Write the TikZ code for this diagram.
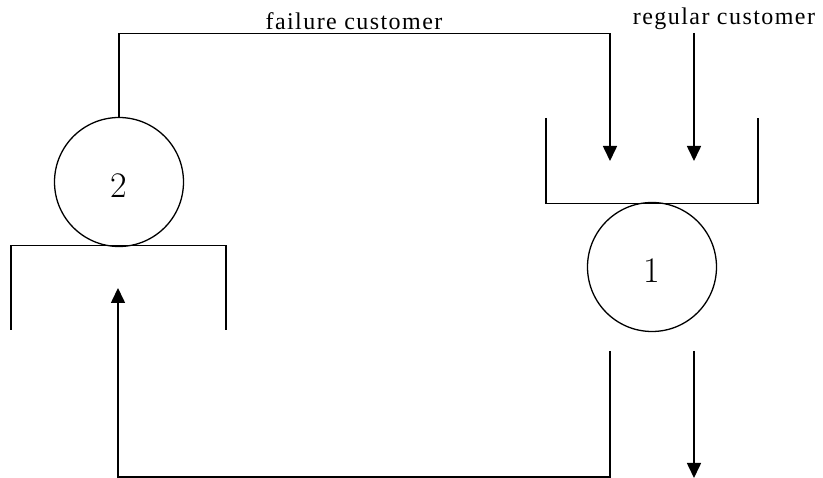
\documentclass[tikz,border=0pt]{standalone}
\usepackage{fontspec}
\setmainfont{Liberation Serif}
\newfontfamily\digitfont{Latin Modern Roman}
\usetikzlibrary{arrows.meta}

\tikzset{
  line/.style={line width=1.6pt},
  flow/.style={line width=1.6pt, -{Triangle[width=14pt,length=15pt]}},
  server/.style={circle, draw, line width=1.3pt, minimum size=129pt, inner sep=0pt},
  servlabel/.style={font=\digitfont\fontsize{36}{36}\selectfont},
  tag/.style={anchor=base, inner sep=0pt,
    font=\addfontfeature{LetterSpace=6}\fontsize{24}{24}\selectfont}
}

\begin{document}
\begin{tikzpicture}[x=1pt, y=-1pt]
  \useasboundingbox (0,0) rectangle (823,478);

  % servers
  \node[server] (s2) at (119,182) {};
  \node[servlabel] (n2) at (119,186) {2};
  \node[server] (s1) at (652,267) {};
  \node[servlabel] (n1) at (652,271) {1};

  % queue of server 2 (open downwards)
  \coordinate (q2a) at (11,330);
  \coordinate (q2b) at (11,245.5);
  \coordinate (q2c) at (226,245.5);
  \coordinate (q2d) at (226,330);
  \draw[line] (q2a) -- (q2b) -- (q2c) -- (q2d);

  % queue of server 1 (open upwards)
  \coordinate (q1a) at (546,118);
  \coordinate (q1b) at (546,203.5);
  \coordinate (q1c) at (758,203.5);
  \coordinate (q1d) at (758,118);
  \draw[line] (q1a) -- (q1b) -- (q1c) -- (q1d);

  % labels
  \node[tag] (fail) at (354,30) {failure customer};
  \node[tag] (reg) at (724,25) {regular customer};

  % failure customers return from server 2 to queue 1
  \coordinate (ftop) at (119,33.5);
  \coordinate (fin) at (610,161);
  \draw[flow] (s2.north) -- (ftop) -| (fin);

  % regular arrivals
  \coordinate (rtop) at (694,33);
  \coordinate (rin) at (694,161);
  \draw[flow] (rtop) -- (rin);

  % feedback from below server 1 to queue 2
  \coordinate (bstart) at (610,351);
  \coordinate (bcorner) at (610,477);
  \coordinate (bin) at (118,288);
  \draw[flow] (bstart) -- (bcorner) -| (bin);

  % departures
  \coordinate (ostart) at (694,351);
  \coordinate (oend) at (694,478);
  \draw[flow] (ostart) -- (oend);
\end{tikzpicture}
\end{document}
